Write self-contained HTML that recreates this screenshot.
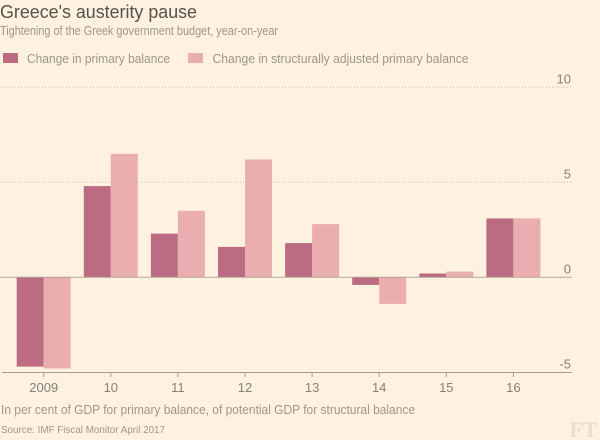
<!DOCTYPE html>
<html lang="en">
<head>
<meta charset="utf-8">
<title>Greece's austerity pause</title>
<style>
html,body{margin:0;padding:0;background:#fff1e0;}
svg{display:block;font-family:"Liberation Sans",sans-serif;}
</style>
</head>
<body>
<svg id="chart" width="600" height="440" viewBox="0 0 600 440" xmlns="http://www.w3.org/2000/svg">
  <rect x="0" y="0" width="600" height="440" fill="#fff1e0"/>
  <text x="0" y="18" font-size="18.5" fill="#57524b" textLength="197" lengthAdjust="spacingAndGlyphs">Greece's austerity pause</text>
  <text x="0" y="35" font-size="12.5" fill="#9c968d" textLength="278" lengthAdjust="spacingAndGlyphs">Tightening of the Greek government budget, year-on-year</text>
  <rect x="3" y="53" width="15" height="10" fill="#bc6c82"/>
  <text x="27" y="63" font-size="12.5" fill="#9c968d" textLength="143" lengthAdjust="spacingAndGlyphs">Change in primary balance</text>
  <rect x="188" y="53" width="15" height="10" fill="#ebaeb0"/>
  <text x="212.5" y="63" font-size="12.5" fill="#9c968d" textLength="256" lengthAdjust="spacingAndGlyphs">Change in structurally adjusted primary balance</text>
  <g id="grid"></g>
  <g id="bars"></g>
  <g id="axis"></g>
  <text x="1" y="414" font-size="12.5" fill="#9c968d" textLength="414" lengthAdjust="spacingAndGlyphs">In per cent of GDP for primary balance, of potential GDP for structural balance</text>
  <text x="1" y="433" font-size="10.5" fill="#9c968d" textLength="164" lengthAdjust="spacingAndGlyphs">Source: IMF Fiscal Monitor April 2017</text>
  <text x="569.5" y="437" font-size="22" font-weight="bold" fill="#e8dccb" font-family="'Liberation Serif',serif" textLength="28" lengthAdjust="spacingAndGlyphs">FT</text>
</svg>
<script>
const categories = ['2009', '10', '11', '12', '13', '14', '15', '16'];
const primaryBalance = [-4.7, 4.8, 2.3, 1.6, 1.8, -0.4, 0.2, 3.1];
const structuralBalance = [-4.8, 6.5, 3.5, 6.2, 2.8, -1.4, 0.3, 3.1];
const yTicks = [10, 5, 0, -5];

const SVG_NS = 'http://www.w3.org/2000/svg';
const yScale = function (v) { return 277.3 - v * 19; };
const xScale = function (i) { return 43.7 + i * 67.1; };
const BAR_WIDTH = 27;

function make(parent, tag, attrs, text) {
  const el = document.createElementNS(SVG_NS, tag);
  Object.keys(attrs).forEach(function (k) { el.setAttribute(k, attrs[k]); });
  if (text !== undefined) el.textContent = text;
  parent.appendChild(el);
  return el;
}

const grid = document.getElementById('grid');
const bars = document.getElementById('bars');
const axis = document.getElementById('axis');

yTicks.forEach(function (t) {
  const y = yScale(t);
  if (t > 0) {
    const line = make(grid, 'line', { x1: 0, x2: 572, y1: y, y2: y, stroke: '#c9c0b2', 'stroke-width': 1, 'stroke-dasharray': '1 2' });
    
    
  }
  const label = make(axis, 'text', { x: 571, y: y - 4, 'text-anchor': 'end', 'font-size': 13, fill: '#85807a' }, String(t));
  
  
});

function drawBar(value, x, fill, name) {
  const y0 = yScale(0);
  const yv = yScale(value);
  const rect = make(bars, 'rect', { x: x, y: Math.min(y0, yv), width: BAR_WIDTH, height: Math.abs(yv - y0), fill: fill });
  
  
}

categories.forEach(function (c, i) {
  drawBar(primaryBalance[i], xScale(i) - BAR_WIDTH, '#bc6c82', 'bar-primary-' + c);
  drawBar(structuralBalance[i], xScale(i), '#ebaeb0', 'bar-structural-' + c);
});

const zeroLine = make(axis, 'line', { x1: 0, x2: 572, y1: yScale(0), y2: yScale(0), stroke: '#a89c8e', 'stroke-width': 1, 'stroke-opacity': 0.85 });



const xAxisLine = make(axis, 'line', { x1: 2, x2: 572, y1: 372.5, y2: 372.5, stroke: '#a89c8e', 'stroke-width': 1 });



categories.forEach(function (c, i) {
  const x = xScale(i);
  const tick = make(axis, 'line', { x1: x, x2: x, y1: 372.5, y2: 377, stroke: '#a89c8e', 'stroke-width': 1 });
  
  
  const label = make(axis, 'text', { x: x, y: 392, 'text-anchor': 'middle', 'font-size': 13, fill: '#85807a' }, c);
  
  
});
</script>
</body>
</html>
